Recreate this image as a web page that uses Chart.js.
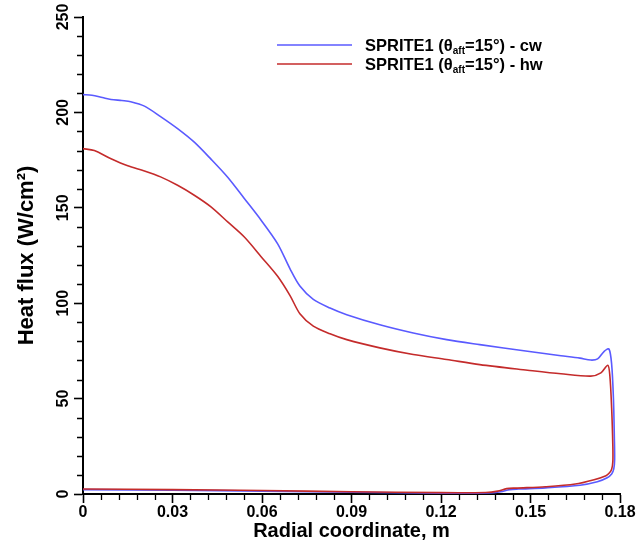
<!DOCTYPE html>
<html><head><meta charset="utf-8">
<script src="https://cdn.jsdelivr.net/npm/chart.js@4.4.1/dist/chart.umd.min.js"></script>
<style>html,body{margin:0;padding:0;background:#fff;overflow:hidden}canvas{display:block}</style>
</head><body>
<canvas id="c" width="639" height="546"></canvas>
<script>
// ---- data ----
const cwX = [0,0.003,0.0065,0.0094,0.013,0.016,0.0206,0.026,0.0317,0.0373,0.0429,0.0485,0.054,0.0597,0.0653,0.0694,0.0727,0.0772,0.0828,0.0884,0.0995,0.1107,0.1219,0.133,0.149,0.1602,0.1666,0.1702,0.1725,0.1747,0.1763,0.1772,0.1778,0.1781,0.1782,0.1779,0.1772,0.1757,0.1724,0.1666,0.155,0.146,0.143,0.14,0.136,0.12,0.09,0.06,0.03,0];
const cwY = [209.3,209,207.8,206.8,206.2,205.6,203.3,197.8,191.5,184.4,175.5,166,155,143.5,131,118,109,102,97.5,94,88.7,84.4,80.9,78.3,74.8,72.5,71.2,70.2,70.8,74.8,76,68,50,30,18,13,10.5,8.5,6.4,4.6,3.2,2.6,2.3,1.2,0.5,0.4,0.9,1.5,2.0,2.3];
const hwX = [0,0.0038,0.0094,0.015,0.0206,0.026,0.0317,0.0373,0.0429,0.0485,0.054,0.0597,0.0653,0.0694,0.0727,0.0772,0.0828,0.0884,0.0995,0.1107,0.1219,0.133,0.149,0.1602,0.1702,0.1736,0.1759,0.1766,0.1772,0.1776,0.1776,0.1772,0.1764,0.1753,0.1713,0.165,0.155,0.145,0.142,0.139,0.135,0.12,0.09,0.06,0.03,0];
const hwY = [181,180,175.7,172,169.3,166.2,161.8,156.6,150.5,142.6,134.8,124.4,114,104,94.5,88,84,80.9,76.6,73.1,70.5,67.8,64.9,63,61.8,63.5,67.5,62,45,25,17,13,11,9.6,7.5,5.2,3.8,3.1,2.8,1.5,0.8,0.7,1.2,1.8,2.3,2.6];
const seriesNames = ['SPRITE1', 'SPRITE1'];
const seriesSuffix = ['cw', 'hw'];
const xTicks = [0,0.03,0.06,0.09,0.12,0.15,0.18];
const xTickLabels = ['0','0.03','0.06','0.09','0.12','0.15','0.18'];
const xMinorTicks = [0.006,0.012,0.018,0.024,0.036,0.042,0.048,0.054,0.066,0.072,0.078,0.084,0.096,0.102,0.108,0.114,0.126,0.132,0.138,0.144,0.156,0.162,0.168,0.174];
const yTicks = [0,50,100,150,200,250];
const yTickLabels = ['0','50','100','150','200','250'];
const yMinorTicks = [10,20,30,40,60,70,80,90,110,120,130,140,160,170,180,190,210,220,230,240];
const xTitle = 'Radial coordinate, m';
const yTitle = 'Heat flux (W/cm\u00B2)';

// ---- styles ----
const BLUE = '#5a5aff';
const RED = '#c42b2b';
const FONT = 'Liberation Sans, Arial, Helvetica, sans-serif';

const minorTicksPlugin = {
  id: 'minorTicks',
  afterDraw(chart) {
    const ctx = chart.ctx, xs = chart.scales.x, ys = chart.scales.y;
    ctx.save();
    ctx.strokeStyle = '#000';
    ctx.lineWidth = 1.3;
    ctx.beginPath();
    xMinorTicks.forEach(v => { const p = Math.round(xs.getPixelForValue(v)) + 0.5; ctx.moveTo(p, xs.top); ctx.lineTo(p, xs.top + 6); });
    yMinorTicks.forEach(v => { const p = Math.round(ys.getPixelForValue(v)) + 0.5; ctx.moveTo(ys.right, p); ctx.lineTo(ys.right - 6, p); });
    ctx.stroke();
    ctx.restore();
  }
};

const legendPlugin = {
  id: 'subLegend',
  afterDraw(chart) {
    const ctx = chart.ctx;
    const colors = [BLUE, RED];
    const x0 = 277, x1 = 352, tx = 365;
    const rows = [45, 64];
    ctx.save();
    rows.forEach((y, i) => {
      ctx.strokeStyle = colors[i];
      ctx.lineWidth = 1.6;
      ctx.beginPath(); ctx.moveTo(x0, y); ctx.lineTo(x1, y); ctx.stroke();
      ctx.fillStyle = '#000';
      ctx.textBaseline = 'alphabetic';
      ctx.textAlign = 'left';
      const base = y + 6;
      let x = tx;
      ctx.font = 'bold 16.5px ' + FONT;
      let s = seriesNames[i] + ' (\u03B8';
      ctx.fillText(s, x, base); x += ctx.measureText(s).width;
      ctx.font = 'bold 10px ' + FONT;
      s = 'aft';
      ctx.fillText(s, x, base + 3); x += ctx.measureText(s).width;
      ctx.font = 'bold 16.5px ' + FONT;
      s = '=15\u00B0) - ' + seriesSuffix[i];
      ctx.fillText(s, x, base);
    });
    ctx.restore();
  }
};

new Chart(document.getElementById('c'), {
  type: 'scatter',
  data: {
    datasets: [
      { label: seriesSuffix[0], data: cwX.map((x, i) => ({ x, y: cwY[i] })), borderColor: BLUE, backgroundColor: BLUE, showLine: true, pointRadius: 0, borderWidth: 1.6, tension: 0.3, clip: false, order: 1 },
      { label: seriesSuffix[1], data: hwX.map((x, i) => ({ x, y: hwY[i] })), borderColor: RED, backgroundColor: RED, showLine: true, pointRadius: 0, borderWidth: 1.6, tension: 0.3, clip: false, order: 0 }
    ]
  },
  options: {
    responsive: false, animation: false, devicePixelRatio: 1,
    layout: { padding: { top: 17, right: 19, left: 0, bottom: 0 } },
    plugins: { legend: { display: false }, tooltip: { enabled: false } },
    scales: {
      x: {
        type: 'linear', min: 0, max: 0.18,
        afterBuildTicks: s => { s.ticks = xTicks.map(v => ({ value: v })); },
        afterFit: s => { s.height = 52; },
        ticks: { callback: (v, i) => xTickLabels[i], color: '#000', font: { family: FONT, weight: 'bold', size: 16 }, padding: 0, maxRotation: 0, autoSkip: false },
        grid: { drawOnChartArea: false, drawTicks: true, tickLength: 9, tickWidth: 1.6, tickColor: '#000' },
        border: { display: true, color: '#000', width: 2 },
        title: { display: true, text: xTitle, color: '#000', font: { family: FONT, weight: 'bold', size: 20 }, padding: { top: 0, bottom: 3 } }
      },
      y: {
        type: 'linear', min: 0, max: 250,
        afterBuildTicks: s => { s.ticks = yTicks.map(v => ({ value: v })); },
        afterFit: s => { s.width = 83; },
        ticks: { callback: (v, i) => yTickLabels[i], color: '#000', font: { family: FONT, weight: 'bold', size: 16 }, padding: -3, minRotation: 90, maxRotation: 90, crossAlign: 'center', autoSkip: false },
        grid: { drawOnChartArea: false, drawTicks: true, tickLength: 9, tickWidth: 1.6, tickColor: '#000' },
        border: { display: true, color: '#000', width: 2 },
        title: { display: true, text: yTitle, color: '#000', font: { family: FONT, weight: 'bold', size: 22 }, padding: { top: 14, bottom: 0 } }
      }
    }
  },
  plugins: [minorTicksPlugin, legendPlugin]
});
</script>
</body></html>
